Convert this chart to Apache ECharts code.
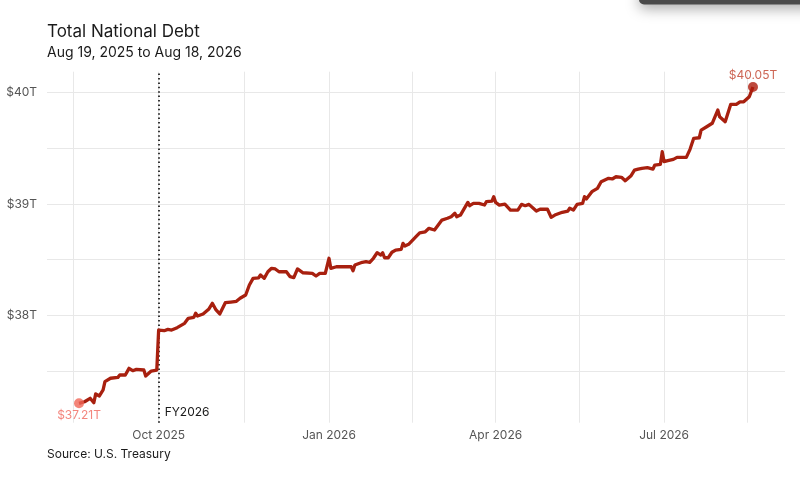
<!DOCTYPE html>
<html>
<head>
<meta charset="utf-8">
<script src="https://cdn.jsdelivr.net/npm/echarts@6/dist/echarts.min.js"></script>
<style>
html,body{margin:0;padding:0;background:#fff;}
#chart{width:800px;height:487px;}
</style>
</head>
<body>
<div id="chart"></div>
<script>
const dates = [
'2025-08-19','2025-08-22','2025-08-25','2025-08-27','2025-08-28','2025-08-30','2025-09-01','2025-09-02','2025-09-05','2025-09-09',
'2025-09-10','2025-09-11','2025-09-13','2025-09-15','2025-09-17','2025-09-19','2025-09-23','2025-09-24','2025-09-27','2025-09-30',
'2025-10-01','2025-10-02','2025-10-04','2025-10-06','2025-10-07','2025-10-08','2025-10-11','2025-10-15','2025-10-17','2025-10-20',
'2025-10-21','2025-10-22','2025-10-25','2025-10-28','2025-10-30','2025-11-01','2025-11-03','2025-11-06','2025-11-09','2025-11-12',
'2025-11-14','2025-11-17','2025-11-19','2025-11-21','2025-11-24','2025-11-25','2025-11-27','2025-11-29','2025-12-01','2025-12-03',
'2025-12-05','2025-12-09','2025-12-11','2025-12-13','2025-12-15','2025-12-18','2025-12-23','2025-12-25','2025-12-27','2025-12-30',
'2026-01-01','2026-01-02','2026-01-05','2026-01-13','2026-01-14','2026-01-15','2026-01-19','2026-01-21','2026-01-23','2026-01-25',
'2026-01-27','2026-01-29','2026-01-30','2026-01-31','2026-02-02','2026-02-04','2026-02-06','2026-02-09','2026-02-10','2026-02-11',
'2026-02-13','2026-02-17','2026-02-19','2026-02-22','2026-02-24','2026-02-25','2026-02-27','2026-03-03','2026-03-06','2026-03-08',
'2026-03-10','2026-03-11','2026-03-13','2026-03-17','2026-03-18','2026-03-20','2026-03-23','2026-03-26','2026-03-27','2026-03-30',
'2026-03-31','2026-04-01','2026-04-03','2026-04-06','2026-04-09','2026-04-13','2026-04-14','2026-04-15','2026-04-17','2026-04-19',
'2026-04-23','2026-04-25','2026-04-29','2026-05-01','2026-05-03','2026-05-07','2026-05-10','2026-05-11','2026-05-13','2026-05-15',
'2026-05-18','2026-05-19','2026-05-20','2026-05-23','2026-05-26','2026-05-28','2026-05-30','2026-06-01','2026-06-03','2026-06-05',
'2026-06-08','2026-06-10','2026-06-13','2026-06-15','2026-06-17','2026-06-19','2026-06-22','2026-06-25','2026-06-26','2026-06-29',
'2026-06-30','2026-07-01','2026-07-03','2026-07-06','2026-07-08','2026-07-09','2026-07-13','2026-07-15','2026-07-17','2026-07-20',
'2026-07-21','2026-07-22','2026-07-24','2026-07-27','2026-07-30','2026-07-31','2026-08-03','2026-08-06','2026-08-09','2026-08-11',
'2026-08-12','2026-08-13','2026-08-16','2026-08-18'
];
const debtTrillions = [
37.21,37.224,37.255,37.215,37.294,37.276,37.33,37.404,37.435,37.443,
37.464,37.449,37.464,37.524,37.503,37.515,37.509,37.455,37.5,37.509,
37.868,37.868,37.862,37.874,37.889,37.868,37.889,37.928,37.973,37.982,
38.018,37.994,38.012,38.054,38.108,38.048,38.012,38.113,38.119,38.126,
38.153,38.182,38.272,38.332,38.337,38.362,38.332,38.391,38.422,38.416,
38.391,38.391,38.347,38.338,38.416,38.382,38.377,38.353,38.377,38.377,
38.512,38.422,38.436,38.436,38.400,38.451,38.476,38.481,38.476,38.512,
38.562,38.541,38.562,38.517,38.517,38.566,38.586,38.592,38.646,38.622,
38.637,38.706,38.741,38.750,38.781,38.790,38.766,38.855,38.871,38.885,
38.916,38.885,38.900,39.014,38.984,39.005,39.005,38.990,39.020,39.026,
39.065,39.014,38.990,38.999,38.945,38.945,38.930,38.996,38.984,38.996,
38.936,38.952,38.952,38.880,38.900,38.925,38.936,38.961,38.945,38.996,
39.005,39.065,39.044,39.110,39.140,39.199,39.215,39.230,39.224,39.244,
39.239,39.208,39.250,39.304,39.313,39.320,39.325,39.313,39.349,39.355,
39.469,39.379,39.388,39.400,39.418,39.409,39.418,39.490,39.589,39.594,
39.663,39.648,39.693,39.724,39.843,39.783,39.738,39.894,39.894,39.917,
39.933,39.917,39.962,40.05
];
const quarterTicks = ['2025-10-01','2026-01-01','2026-04-01','2026-07-01'];
const midQuarterTicks = ['2025-08-16','2025-11-16','2026-02-15','2026-05-16','2026-08-15'];
const yGridValues = [37.5,38,38.5,39,39.5,40];
const yLabelValues = [38,39,40];
const fiscalYearStart = '2025-10-01';
const fiscalYearLabel = 'FY2026';
const titleText = 'Total National Debt';
const subtitleText = 'Aug 19, 2025 to Aug 18, 2026';
const sourceText = 'Source: U.S. Treasury';

function ts(s){ const p = s.split('-').map(Number); return Date.UTC(p[0], p[1]-1, p[2]); }
const DAY = 86400000;
const months = ['Jan','Feb','Mar','Apr','May','Jun','Jul','Aug','Sep','Oct','Nov','Dec'];
const xMin = ts(dates[0]) - 17.3*DAY;
const xMax = ts(dates[dates.length-1]) + 17.3*DAY;
const yMin = 37.036, yMax = 40.187;

const lineData = dates.map((d,i)=>[ts(d), debtTrillions[i]]);
const first = lineData[0], last = lineData[lineData.length-1];
const FONT = 'Inter, "Noto Sans", sans-serif';

const chart = echarts.init(document.getElementById('chart'));
chart.setOption({
  animation:false,
  backgroundColor:'#ffffff',
  textStyle:{fontFamily:FONT},
  title:[
    {text:titleText, left:47, top:23, padding:0, textStyle:{fontFamily:FONT, fontSize:17, fontWeight:'normal', color:'#1a1a1a'}},
    {text:subtitleText, left:47, top:46, padding:0, textStyle:{fontFamily:FONT, fontSize:14, fontWeight:'normal', color:'#1a1a1a'}},
    {text:sourceText, left:47, top:448, padding:0, textStyle:{fontFamily:FONT, fontSize:12, fontWeight:'normal', color:'#1a1a1a'}}
  ],
  grid:{left:47, right:15, top:71.7, bottom:64.3, containLabel:false},
  xAxis:{
    type:'value', min:xMin, max:xMax, scale:true,
    axisLine:{show:false},
    axisTick:{show:false, customValues: quarterTicks.concat(midQuarterTicks).map(ts).sort((a,b)=>a-b)},
    axisLabel:{customValues: quarterTicks.map(ts), color:'#555', fontSize:12, fontFamily:FONT, margin:7,
      formatter:(v)=>{ const d=new Date(v); return months[d.getUTCMonth()]+' '+d.getUTCFullYear(); }},
    splitLine:{show:true, lineStyle:{color:'#e8e8e8', width:1}}
  },
  yAxis:{
    type:'value', min:yMin, max:yMax,
    axisLine:{show:false},
    axisTick:{show:false, customValues: yGridValues},
    axisLabel:{customValues: yLabelValues, color:'#555', fontSize:12, fontFamily:FONT, margin:10,
      formatter:(v)=>'$'+v+'T'},
    splitLine:{show:true, lineStyle:{color:'#e8e8e8', width:1}}
  },
  series:[
    {
      type:'line', data:lineData, showSymbol:false, symbol:'none',
      lineStyle:{color:'#a8200f', width:3.3, join:'round'},
      z:3,
      markLine:{
        silent:true, symbol:['none','none'],
        label:{show:false},
        lineStyle:{color:'#222', type:[1.5,2.9], width:1.8},
        data:[{xAxis: ts(fiscalYearStart)}],
        z:2
      },
      markPoint:{
        silent:true,
        data:[{coord:[ts(fiscalYearStart), yMin], symbol:'circle', symbolSize:0,
          label:{show:true, formatter:fiscalYearLabel, position:'right', distance:6, offset:[0,-10], color:'#1a1a1a', fontSize:12, fontFamily:FONT}}]
      }
    },
    {
      type:'scatter', data:[first], symbol:'circle', symbolSize:10, z:4,
      itemStyle:{color:'#f06757'},
      label:{show:true, position:'bottom', distance:1, formatter:'$'+first[1].toFixed(2)+'T', color:'#f0665c', fontSize:12, fontFamily:FONT}
    },
    {
      type:'scatter', data:[last], symbol:'circle', symbolSize:10, z:4,
      itemStyle:{color:'#ad1c0c'},
      label:{show:true, position:'top', distance:1, formatter:'$'+last[1].toFixed(2)+'T', color:'#c0402a', fontSize:12, fontFamily:FONT}
    }
  ],
  graphic:[
    {type:'rect', z:100, shape:{x:639, y:-12, width:200, height:16.5, r:5},
     style:{fill:'#4a4a4a', shadowBlur:14, shadowColor:'rgba(0,0,0,0.35)', shadowOffsetY:4}}
  ]
});
</script>
</body>
</html>
